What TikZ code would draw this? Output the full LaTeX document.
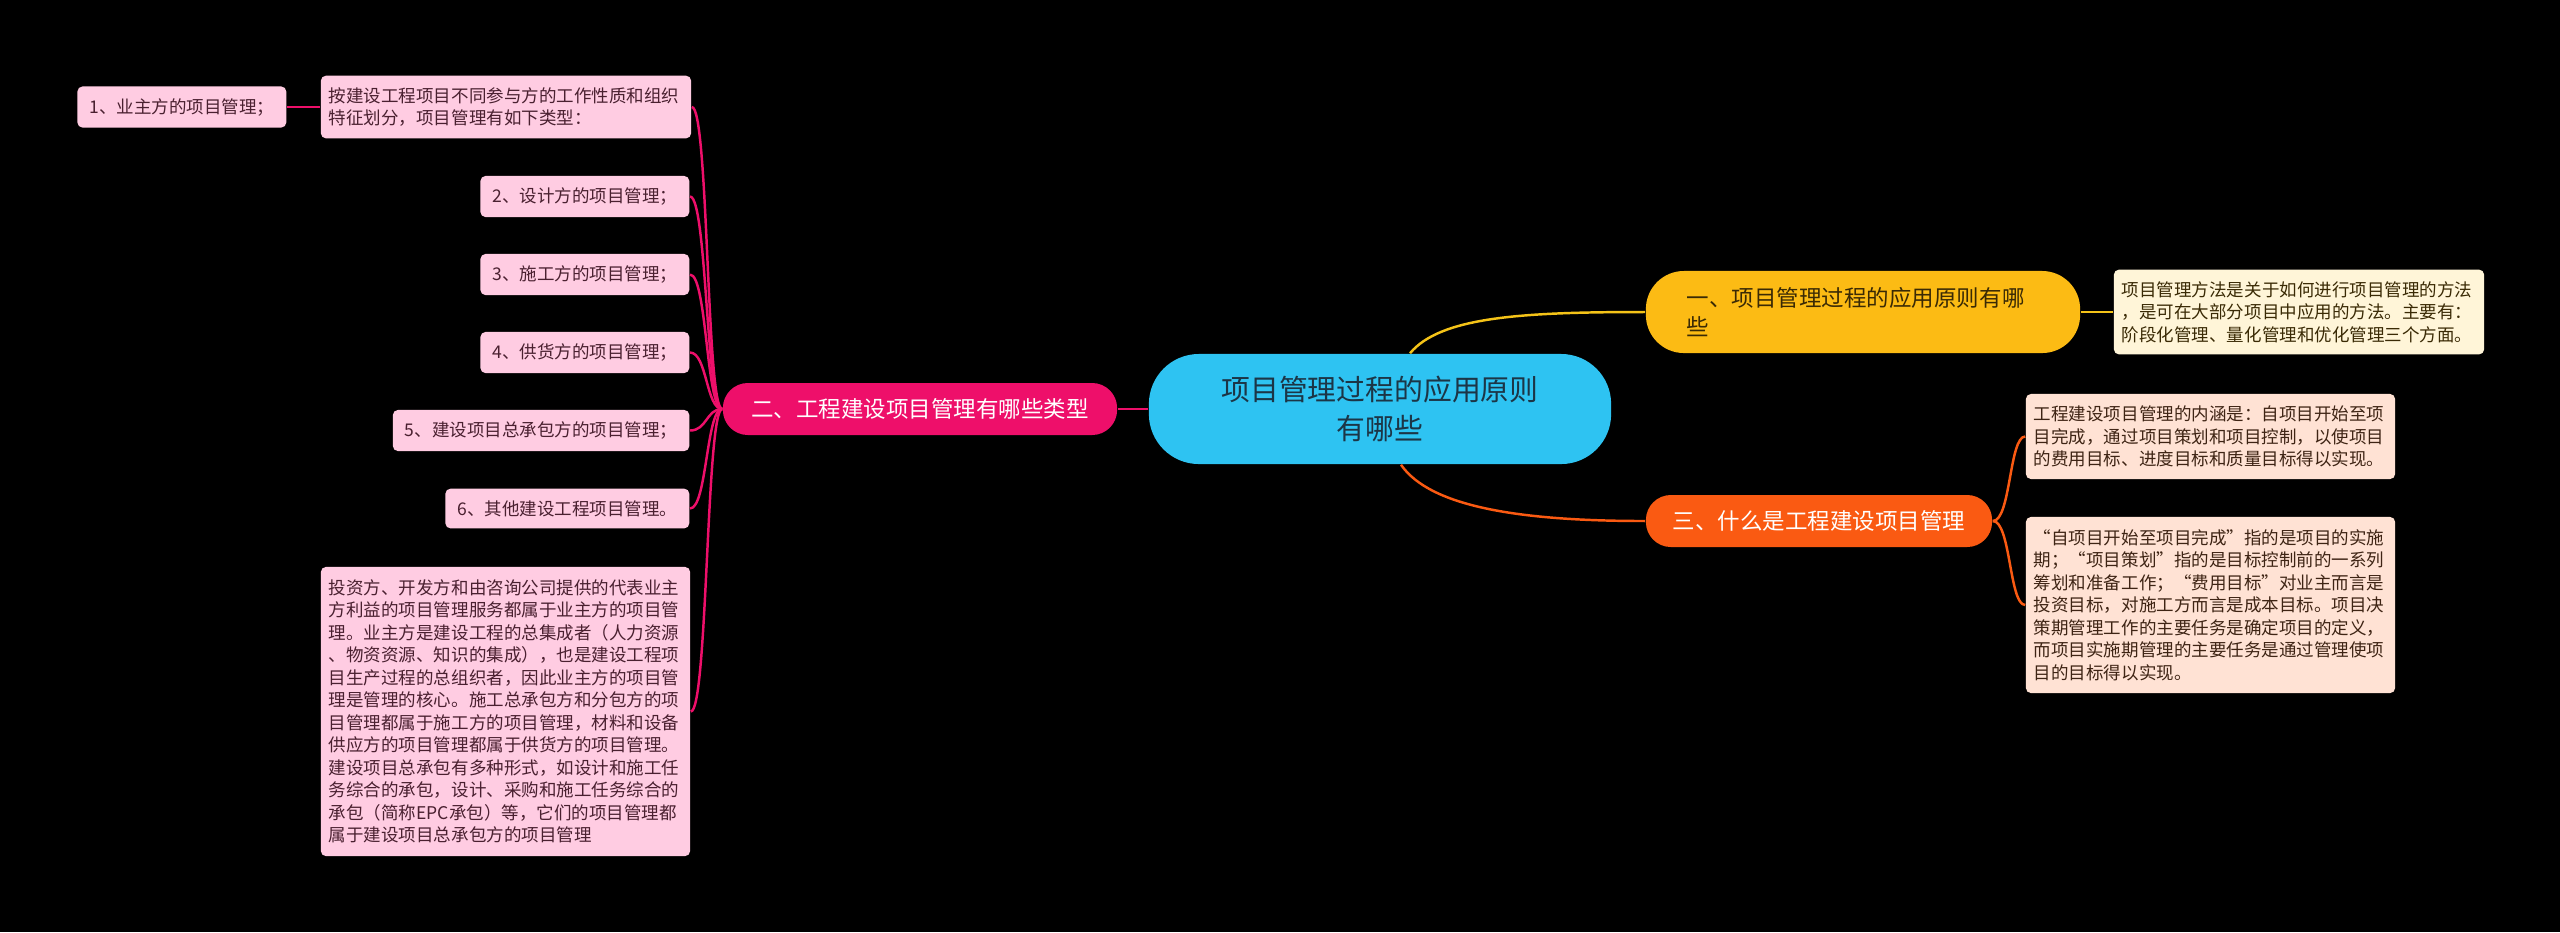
\documentclass[tikz,border=0pt]{standalone}
\usepackage{fontspec}
\setmainfont{Noto Sans CJK SC}
\usetikzlibrary{calc}

\definecolor{rootblue}{HTML}{2EC3F2}
\definecolor{rootink}{HTML}{1C3546}
\definecolor{pinkbr}{HTML}{EE0F6A}
\definecolor{pinkleaf}{HTML}{FFCCE2}
\definecolor{pinkink}{HTML}{4A2030}
\definecolor{goldbr}{HTML}{FCBB14}
\definecolor{goldink}{HTML}{3A2A05}
\definecolor{goldleaf}{HTML}{FFF5D8}
\definecolor{goldline}{HTML}{F4C318}
\definecolor{orangebr}{HTML}{FA5A12}
\definecolor{orangeleaf}{HTML}{FFE2D4}
\definecolor{orangeink}{HTML}{3E2414}

\newcommand{\rootfont}{\fontsize{8.2pt}{11.3pt}\selectfont}
\newcommand{\brfont}{\fontsize{6.4pt}{8pt}\selectfont}
\newcommand{\leaffont}{\fontsize{4.98pt}{6.4pt}\selectfont}

\begin{document}
\begin{tikzpicture}[x=0.01cm, y=-0.01cm,
  rcell/.style={fill=rootblue, text=rootink, rounded corners=0.5cm, align=center, font=\rootfont, minimum width=4.62cm, minimum height=1.1cm},
  bcell/.style={rounded corners=0.25cm, minimum height=0.52cm, font=\brfont},
  lcell/.style={rounded corners=0.05cm, inner xsep=0.08cm, align=left, font=\leaffont},
  pcell/.style={lcell, fill=pinkleaf, text=pinkink},
  pitem/.style={pcell, anchor=east, inner xsep=0.12cm, minimum height=0.39cm},
  a/.style={line width=0.7pt}]
  \useasboundingbox (0,0) rectangle (2560,932);
  \fill[black] (0,0) rectangle (2560,932);

  % centre
  \node[rcell] (r) at (1380,409) {项目管理过程的应用原则\\有哪些};

  % branches
  \node[bcell, fill=goldbr, text=goldink, rounded corners=0.38cm, minimum height=0.82cm, text width=3.52cm, inner xsep=0.41cm, align=left] (b1) at (1863,312) {一、项目管理过程的应用原则有哪\\些};
  \node[bcell, fill=pinkbr, text=white, minimum width=3.94cm] (b2) at (920,409) {二、工程建设项目管理有哪些类型};
  \node[bcell, fill=orangebr, text=white, minimum width=3.46cm] (b3) at (1819,521) {三、什么是工程建设项目管理};

  % right leaves
  \node[lcell, fill=goldleaf, text=goldink, text width=3.54cm, minimum height=0.82cm] (m1) at (2299,312) {项目管理方法是关于如何进行项目管理的方法\\，是可在大部分项目中应用的方法。主要有：\\阶段化管理、量化管理和优化管理三个方面。};
  \node[lcell, fill=orangeleaf, text=orangeink, text width=3.53cm, minimum height=0.85cm] (w1) at (2210.5,436.5) {工程建设项目管理的内涵是：自项目开始至项\\目完成，通过项目策划和项目控制，以使项目\\的费用目标、进度目标和质量目标得以实现。};
  \node[lcell, fill=orangeleaf, text=orangeink, text width=3.53cm, minimum height=1.76cm] (w2) at (2210.5,605) {“自项目开始至项目完成”指的是项目的实施\\期；“项目策划”指的是目标控制前的一系列\\筹划和准备工作；“费用目标”对业主而言是\\投资目标，对施工方而言是成本目标。项目决\\策期管理工作的主要任务是确定项目的定义，\\而项目实施期管理的主要任务是通过管理使项\\目的目标得以实现。};

  % left leaves
  \node[pcell, text width=3.54cm, minimum height=0.62cm] (c0) at (506,107) {按建设工程项目不同参与方的工作性质和组织\\特征划分，项目管理有如下类型：};
  \node[pitem] (c1) at (287,107) {1、业主方的项目管理；};
  \node[pitem] (c2) at (690,196.5) {2、设计方的项目管理；};
  \node[pitem] (c3) at (690,274.5) {3、施工方的项目管理；};
  \node[pitem] (c4) at (690,352.5) {4、供货方的项目管理；};
  \node[pitem] (c5) at (690,430.5) {5、建设项目总承包方的项目管理；};
  \node[pitem] (c6) at (690,508.5) {6、其他建设工程项目管理。};
  \node[pcell, text width=3.53cm, minimum height=2.89cm] (c7) at (505.5,711.5) {投资方、开发方和由咨询公司提供的代表业主\\方利益的项目管理服务都属于业主方的项目管\\理。业主方是建设工程的总集成者（人力资源\\、物资资源、知识的集成），也是建设工程项\\目生产过程的总组织者，因此业主方的项目管\\理是管理的核心。施工总承包方和分包方的项\\目管理都属于施工方的项目管理，材料和设备\\供应方的项目管理都属于供货方的项目管理。\\建设项目总承包有多种形式，如设计和施工任\\务综合的承包，设计、采购和施工任务综合的\\承包（简称EPC承包）等，它们的项目管理都\\属于建设项目总承包方的项目管理};

  % links
  \coordinate (rt) at ($(r.north)+(30,0)$);
  \coordinate (rb) at ($(r.south)+(21,0)$);
  \draw[a, goldline] (rt) .. controls +(30,-36) and +(-126,0) .. (b1.west);
  \draw[a, orangebr] (rb) .. controls +(29,42) and +(-126,0) .. (b3.west);
  \draw[a, pinkbr] (r.west) -- (b2.east);
  \draw[a, goldline] (b1.east) -- (m1.west);
  \foreach \c in {w1,w2}
    \draw[a, orangebr] (b3.east) .. controls +(18,0) and +(-16,0) .. (\c.west);
  \foreach \c in {c0,c2,c3,c4,c5,c6,c7}
    \draw[a, pinkbr] (b2.west) .. controls +(-16,0) and +(17,0) .. (\c.east);
  \draw[a, pinkbr] (c0.west) -- (c1.east);
\end{tikzpicture}
\end{document}
